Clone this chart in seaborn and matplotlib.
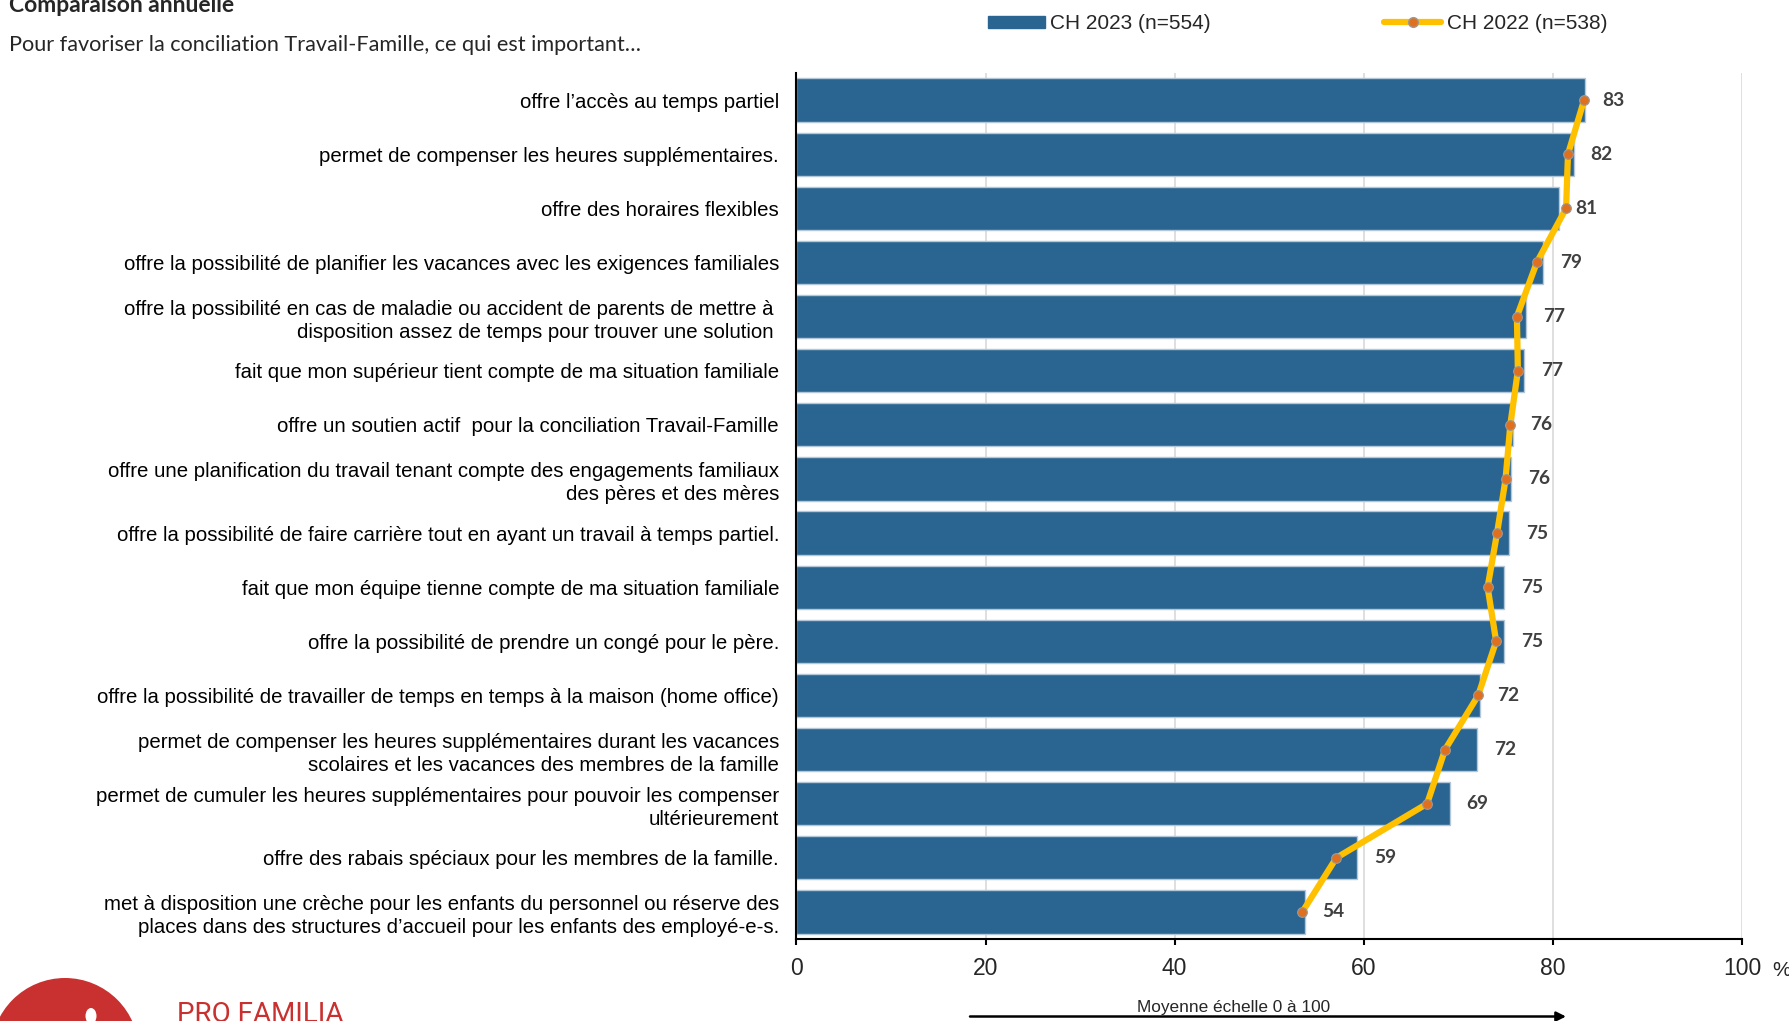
import numpy as np
import pandas as pd
import matplotlib
matplotlib.use("Agg")
import matplotlib.pyplot as plt
from matplotlib.patches import Patch, Circle, Ellipse
from matplotlib.lines import Line2D
import seaborn as sns

# ---------------- data ----------------
categories = [
    "offre l’accès au temps partiel",
    "permet de compenser les heures supplémentaires.",
    "offre des horaires flexibles",
    "offre la possibilité de planifier les vacances avec les exigences familiales",
    "offre la possibilité en cas de maladie ou accident de parents de mettre à \ndisposition assez de temps pour trouver une solution ",
    "fait que mon supérieur tient compte de ma situation familiale",
    "offre un soutien actif  pour la conciliation Travail-Famille",
    "offre une planification du travail tenant compte des engagements familiaux\ndes pères et des mères",
    "offre la possibilité de faire carrière tout en ayant un travail à temps partiel.",
    "fait que mon équipe tienne compte de ma situation familiale",
    "offre la possibilité de prendre un congé pour le père.",
    "offre la possibilité de travailler de temps en temps à la maison (home office)",
    "permet de compenser les heures supplémentaires durant les vacances\nscolaires et les vacances des membres de la famille",
    "permet de cumuler les heures supplémentaires pour pouvoir les compenser\nultérieurement",
    "offre des rabais spéciaux pour les membres de la famille.",
    "met à disposition une crèche pour les enfants du personnel ou réserve des\nplaces dans des structures d’accueil pour les enfants des employé-e-s.",
]
ch2023 = [83.4, 82.2, 80.6, 79.0, 77.2, 77.0, 75.8, 75.6, 75.4, 74.8, 74.8, 72.3, 72.0, 69.1, 59.3, 53.8]
ch2022 = [83.3, 81.6, 81.4, 78.3, 76.2, 76.3, 75.5, 75.0, 74.1, 73.1, 74.0, 72.1, 68.6, 66.7, 57.1, 53.5]
x_ticks = [0, 20, 40, 60, 80, 100]
legend_2023 = "CH 2023 (n=554)"
legend_2022 = "CH 2022 (n=538)"
title = "Comparaison annuelle"
subtitle = "Pour favoriser la conciliation Travail-Famille, ce qui est important…"
axis_note = "Moyenne échelle 0 à 100"

# ---------------- style ----------------
sns.set_style("white")
plt.rcParams["font.family"] = ["Liberation Sans", "DejaVu Sans"]

BAR = "#2A6592"
BAR_EDGE = "#B4C7D9"
LINE = "#FFC000"
MARK = "#E0701E"
GRID = "#D9D9D9"

fig = plt.figure(figsize=(17.89, 10.21), dpi=100)
ax = fig.add_axes([0.4452, 0.0803, 0.5285, 0.8482])

df = pd.DataFrame({"cat": categories, "v23": ch2023, "v22": ch2022, "pos": np.arange(len(categories))})

sns.barplot(data=df, x="v23", y="cat", orient="h", color=BAR, saturation=1,
            width=0.8, edgecolor=BAR_EDGE, linewidth=1, ax=ax, zorder=2)

sns.lineplot(data=df, x="v22", y="pos", orient="y", sort=False, estimator=None,
             color=LINE, linewidth=4.5, marker="o", markersize=7,
             markerfacecolor=MARK, markeredgecolor="#9A9A9A", markeredgewidth=0.8,
             ax=ax, zorder=4, legend=False)

ax.set_xlim(0, 100)
ax.set_ylim(len(categories) - 0.5, -0.5)
ax.set_xticks(x_ticks)
ax.set_xticklabels([str(t) for t in x_ticks])
ax.set_xlabel("")
ax.set_ylabel("")

ax.grid(axis="x", color=GRID, linewidth=1.2, zorder=0)
ax.grid(axis="y", visible=False)
ax.set_axisbelow(True)

for s in ["top", "right"]:
    ax.spines[s].set_visible(False)
for s in ["left", "bottom"]:
    ax.spines[s].set_color("black")
    ax.spines[s].set_linewidth(1.5)
    ax.spines[s].set_zorder(5)

ax.tick_params(axis="x", direction="out", length=4, width=1.5, color="black",
               labelsize=16.5, pad=9, bottom=True)
ax.tick_params(axis="y", length=0, labelsize=14.7, pad=12.5)
for lab in ax.get_yticklabels():
    lab.set_linespacing(1.3)
    lab.set_multialignment("right")
    lab.set_color("black")

# value labels
for i, v in enumerate(ch2023):
    ax.annotate(f"{v:.0f}", xy=(v, i), xytext=(12.2, 0), textcoords="offset points",
                ha="left", va="center", fontsize=13.8, fontweight="bold",
                color="#404040", family=["Lato", "DejaVu Sans"], zorder=6)

# legend
handles = [
    Patch(facecolor=BAR, edgecolor=BAR, label=legend_2023),
    Line2D([0], [0], color=LINE, linewidth=4.5, marker="o", markersize=7,
           markerfacecolor=MARK, markeredgecolor="#9A9A9A", label=legend_2022),
]
fig.legend(handles=handles, loc="center left", bbox_to_anchor=(988 / 1789, 1 - 23.5 / 1021),
           ncol=2, frameon=False, fontsize=15, handlelength=2.75, handleheight=0.5,
           handletextpad=0.25, columnspacing=8.3, borderpad=0, borderaxespad=0)

# titles
fig.text(9 / 1789, 1 - 12 / 1021, title, fontsize=16.5, fontweight="bold",
         family=["Lato", "DejaVu Sans"], va="baseline", ha="left")
fig.text(9 / 1789, 1 - 51 / 1021, subtitle, fontsize=15.6,
         family=["Lato", "DejaVu Sans"], va="baseline", ha="left")

# percent sign after axis
fig.text(1772 / 1789, 1 - 970 / 1021, "%", fontsize=15, va="center", ha="left")

# axis note with arrow
fig.text(1234 / 1789, 1 - 1007 / 1021, axis_note, fontsize=12.4, ha="center", va="center")
ax.annotate("", xy=(15.66, 0.045), xytext=(9.70, 0.045),
            xycoords=fig.dpi_scale_trans, textcoords=fig.dpi_scale_trans,
            arrowprops=dict(arrowstyle="-|>", lw=1.8, color="black", mutation_scale=14,
                            shrinkA=0, shrinkB=0), annotation_clip=False)

# logo
fig.add_artist(Circle((0.65, -0.31), 0.74, transform=fig.dpi_scale_trans,
                      facecolor="#C8312F", edgecolor="none", clip_on=False))
fig.add_artist(Ellipse((0.91, 0.05), 0.11, 0.16, transform=fig.dpi_scale_trans,
                       facecolor="white", edgecolor="none", clip_on=False))
fig.text(177 / 1789, 1 - 1022 / 1021, "PRO FAMILIA", fontsize=20, color="#C8312F",
         family=["Liberation Sans Narrow", "Roboto", "DejaVu Sans"], va="baseline", ha="left")

fig.savefig("out.png", dpi=100)
